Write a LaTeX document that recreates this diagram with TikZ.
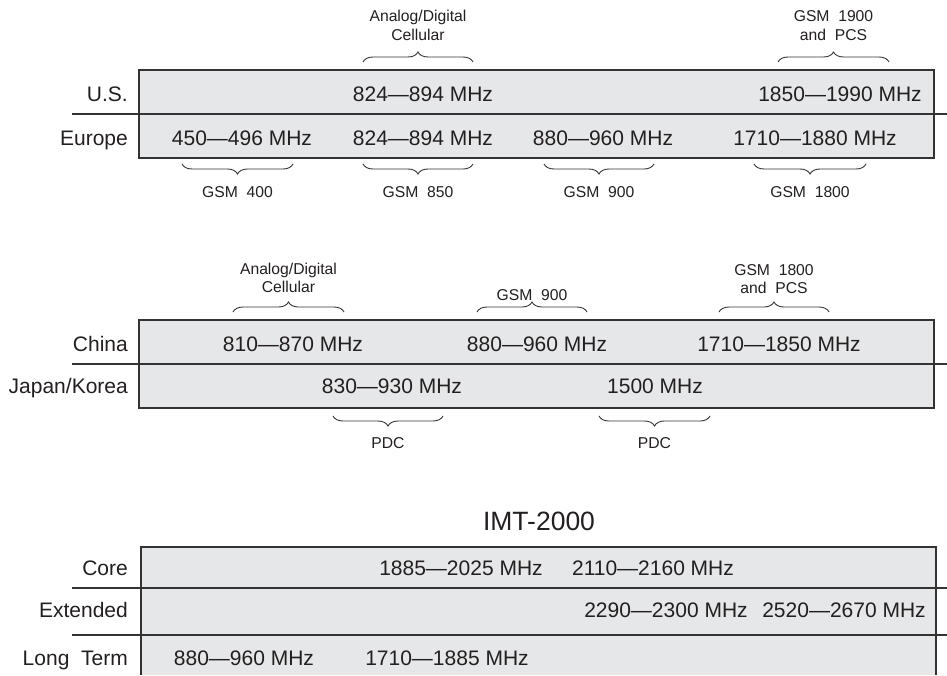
\documentclass[tikz,border=0pt]{standalone}
\usepackage{fontspec}
\setmainfont{Liberation Sans}
\usetikzlibrary{decorations.pathreplacing}
\definecolor{boxfill}{HTML}{E6E7E8}
\definecolor{ink}{HTML}{231F20}
\definecolor{rulec}{HTML}{333333}
\begin{document}
\begin{tikzpicture}[x=1pt,y=-1pt,
  band/.style={fill=boxfill, draw=rulec, line width=1.1pt},
  divider/.style={draw=rulec, line width=1.1pt},
  freq/.style={font=\fontsize{21}{25}\selectfont, text=ink, anchor=base, inner sep=0pt},
  rowlab/.style={font=\fontsize{21}{25}\selectfont, text=ink, anchor=base east, inner sep=0pt},
  note/.style={font=\fontsize{15.7}{19}\selectfont, text=ink, anchor=base, inner sep=0pt},
  title/.style={font=\fontsize{26.5}{30}\selectfont, text=ink, anchor=base, inner sep=0pt},
  brc/.style={draw=rulec, line width=0.9pt, decorate, decoration={brace, amplitude=10pt}}]
\useasboundingbox (0,0) rectangle (947,675);

% ---------- block 1: U.S. / Europe ----------
\draw[band] (139,70) rectangle (934,158);
\draw[divider] (72,114) -- (947,114);
\node[rowlab] (us) at (128,101.5) {U.S.};
\node[rowlab] (eu) at (128,145) {Europe};
\node[freq] (us1) at (423,101.5) {824—894 MHz};
\node[freq] (us2) at (840,101.5) {1850—1990 MHz};
\node[freq] (eu1) at (242,145) {450—496 MHz};
\node[freq] (eu2) at (423,145) {824—894 MHz};
\node[freq] (eu3) at (603,145) {880—960 MHz};
\node[freq] (eu4) at (815,145) {1710—1880 MHz};

\draw[brc] (363,62) -- (473,62);
\node[note] (adA) at (418,21) {Analog/Digital};
\node[note] (adB) at (418,40) {Cellular};
\draw[brc] (778,62) -- (889,62);
\node[note] (g19A) at (833.5,21.5) {GSM~~1900};
\node[note] (g19B) at (833.5,40) {and~~PCS};

\draw[brc] (293,164) -- (182,164);
\node[note] (g400) at (237.5,197) {GSM~~400};
\draw[brc] (473,164) -- (363,164);
\node[note] (g850) at (418,197) {GSM~~850};
\draw[brc] (654,164) -- (544,164);
\node[note] (g900) at (599,197) {GSM~~900};
\draw[brc] (866,164) -- (754,164);
\node[note] (g1800) at (810,197) {GSM~~1800};

% ---------- block 2: China / Japan/Korea ----------
\draw[band] (139,320) rectangle (934,408);
\draw[divider] (72,364) -- (947,364);
\node[rowlab] (cn) at (128,351.5) {China};
\node[rowlab] (jk) at (128,393) {Japan/Korea};
\node[freq] (cn1) at (293,351.5) {810—870 MHz};
\node[freq] (cn2) at (537,351.5) {880—960 MHz};
\node[freq] (cn3) at (779,351.5) {1710—1850 MHz};
\node[freq] (jk1) at (392,393) {830—930 MHz};
\node[freq] (jk2) at (655,393) {1500 MHz};

\draw[brc] (233,312) -- (344,312);
\node[note] (ad2A) at (288.5,274) {Analog/Digital};
\node[note] (ad2B) at (288.5,292.5) {Cellular};
\draw[brc] (477,312) -- (587,312);
\node[note] (g900b) at (532,300) {GSM~~900};
\draw[brc] (719,312) -- (829,312);
\node[note] (g18A) at (774,275) {GSM~~1800};
\node[note] (g18B) at (774,293) {and~~PCS};

\draw[brc] (443,416) -- (333,416);
\node[note] (pdc1) at (388,448) {PDC};
\draw[brc] (710,416) -- (599,416);
\node[note] (pdc2) at (654.5,448) {PDC};

% ---------- block 3: IMT-2000 ----------
\node[title] (imt) at (539,530.5) {IMT-2000};
\fill[boxfill] (141,547) rectangle (936,675);
\draw[rulec, line width=1.6pt] (141,675) -- (141,547) -- (936,547) -- (936,675);
\draw[divider] (72,588) -- (947,588);
\draw[divider] (72,635) -- (947,635);
\node[rowlab] (core) at (128,575) {Core};
\node[rowlab] (ext) at (128,617) {Extended};
\node[rowlab] (lt) at (128,665) {Long~~Term};
\node[freq] (c1) at (461,575) {1885—2025 MHz};
\node[freq] (c2) at (653,575) {2110—2160 MHz};
\node[freq] (e1) at (666,617) {2290—2300 MHz};
\node[freq] (e2) at (844,617) {2520—2670 MHz};
\node[freq] (l1) at (244,665) {880—960 MHz};
\node[freq] (l2) at (447,665) {1710—1885 MHz};
\end{tikzpicture}
\end{document}
